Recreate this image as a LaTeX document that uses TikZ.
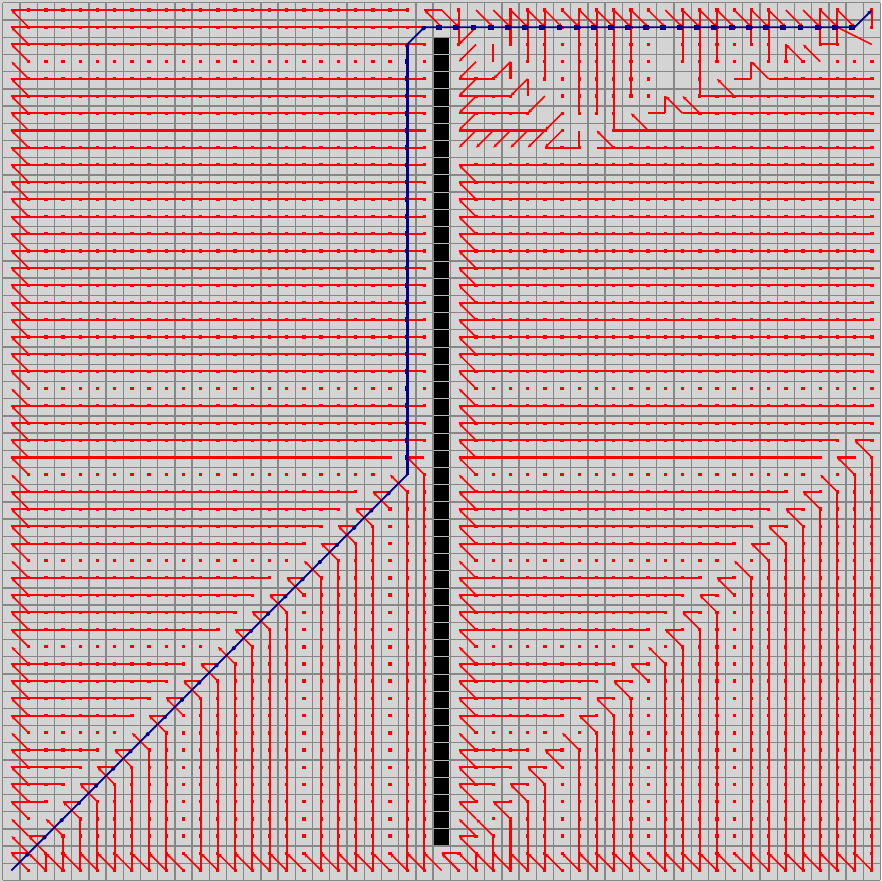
\documentclass[tikz,border=0pt]{standalone}
\usetikzlibrary{arrows.meta}
\definecolor{bgc}{RGB}{212,212,212}
\definecolor{gridc}{RGB}{135,135,135}
\definecolor{wallsep}{RGB}{185,185,185}
\definecolor{pathc}{RGB}{0,0,140}
\tikzset{
  redln/.style={draw=red,line width=1.7pt},
  redthin/.style={draw=red,line width=1.3pt},
  arrend/.style={-{Stealth[length=3.6pt,width=3.2pt]}},
  arrstart/.style={{Stealth[length=3.6pt,width=3.2pt]}-},
}
\newcommand{\hln}[3]{\draw[redln] ({#2+0.5},{#1+0.42}) -- ({#3+0.5},{#1+0.42});}
\newcommand{\hticks}[3]{\foreach \kk in {#2,...,#3}{\fill[red] ({\kk+0.4},{#1+0.33}) rectangle ({\kk+0.6},{#1+0.51});}}
\newcommand{\vln}[3]{\draw[redln] ({#1+0.5},{#2+0.42}) -- ({#1+0.5},{#3+0.42});}
\newcommand{\vticks}[3]{\foreach \kk in {#2,...,#3}{\fill[red] ({#1+0.41},{\kk+0.32}) rectangle ({#1+0.59},{\kk+0.52});}}
\newcommand{\dg}[4]{\draw[redthin,arrstart] ({#1+0.5},{#2+0.42}) -- ({#3+0.5},{#4+0.42});}
\begin{document}
\begin{tikzpicture}[x=0.5cm,y=-0.5cm]
\fill[bgc] (-0.163,-0.163) rectangle (51.03,51.03);
\useasboundingbox (-0.163,-0.163) rectangle (51.03,51.03);
% grid
\foreach \i in {0,...,51}{
  \draw[gridc,line width=1.1pt] (\i,0) -- (\i,51);
  \draw[gridc,line width=1.1pt] (0,\i) -- (51,\i);
}
% wall
\fill[black] (25.06,2.06) rectangle (25.94,48.94);
\foreach \rw in {3,...,48}{\draw[wallsep,line width=0.7pt] (25.06,\rw) -- (25.94,\rw);}

% ---------- left region ----------
\hln{0}{0}{23}\hticks{0}{1}{23}
\foreach \rw in {1,2,4,5,...,21,23,24,25}{\hln{\rw}{0}{24}\hticks{\rw}{1}{24}}
\foreach \rw in {3,22}{\hticks{\rw}{1}{24}}
\foreach \rw in {26,...,47}{
  \pgfmathtruncatemacro\hE{48-\rw}
  \pgfmathtruncatemacro\dr{(\rw==27)||(\rw==32)||(\rw==37)||(\rw==42)||(\rw==47)}
  \ifnum\dr=0 \hln{\rw}{0}{\hE}\fi
  \hticks{\rw}{1}{\hE}
}
\foreach \rw in {0,...,48}{\pgfmathtruncatemacro\nr{\rw+1}\dg{0}{\rw}{1}{\nr}}
\draw[redln] (24.5,0.42) -- (25.5,0.42);
\dg{24}{0}{25}{1}
\foreach \rw in {26,...,49}{
  \pgfmathtruncatemacro\hA{49-\rw}
  \pgfmathtruncatemacro\hB{50-\rw}
  \pgfmathtruncatemacro\nr{\rw+1}
  \pgfmathtruncatemacro\dr{(\rw==27)||(\rw==32)||(\rw==37)||(\rw==42)||(\rw==47)}
  \pgfmathtruncatemacro\dc{(\hB==10)||(\hB==17)||(\hB==22)}
  \ifnum\dr=0 \draw[redln] ({\hA+0.5},{\rw+0.42}) -- ({\hB+0.5},{\rw+0.42});\fi
  \dg{\hA}{\rw}{\hB}{\nr}
  \ifnum\dc=0 \vln{\hB}{\nr}{50}\fi
  \vticks{\hB}{\nr}{50}
}
% bottom zigzag
\foreach \cl in {1,...,49}{\pgfmathtruncatemacro\nc{\cl+1}\dg{\cl}{49}{\nc}{50}}

% ---------- right region ----------
\foreach \rw in {9,...,47}{\pgfmathtruncatemacro\nr{\rw+1}\dg{26}{\rw}{27}{\nr}}
\foreach \rw in {9,10,...,21,23,24}{\hln{\rw}{26}{50}\hticks{\rw}{27}{50}}
\hticks{22}{27}{50}
\foreach \rw in {25,...,46}{
  \pgfmathtruncatemacro\hE{73-\rw}
  \pgfmathtruncatemacro\dr{(\rw==27)||(\rw==32)||(\rw==37)||(\rw==42)||(\rw==47)}
  \ifnum\dr=0 \hln{\rw}{26}{\hE}\fi
  \hticks{\rw}{27}{\hE}
}
\foreach \rw in {25,...,49}{
  \pgfmathtruncatemacro\hA{74-\rw}
  \pgfmathtruncatemacro\hB{75-\rw}
  \pgfmathtruncatemacro\nr{\rw+1}
  \pgfmathtruncatemacro\dr{(\rw==27)||(\rw==32)||(\rw==37)||(\rw==42)||(\rw==47)}
  \pgfmathtruncatemacro\dc{(\hB==32)||(\hB==37)||(\hB==42)}
  \ifnum\dr=0 \draw[redln] ({\hA+0.5},{\rw+0.42}) -- ({\hB+0.5},{\rw+0.42});\fi
  \hticks{\rw}{\hB}{\hB}
  \dg{\hA}{\rw}{\hB}{\nr}
  \ifnum\dc=0 \vln{\hB}{\nr}{50}\fi
  \vticks{\hB}{\nr}{50}
}

% ---------- top right block ----------
\foreach \cl in {25,27,28,...,48}{\pgfmathtruncatemacro\nc{\cl+1}\draw[redthin,arrend] ({\cl+0.5},0.42) -- ({\nc+0.5},1.42);}
\foreach \cl/\e in {26/2,29/2,30/3,31/4,33/6,34/6,35/7,36/5,39/3,40/5,41/3,43/2,44/3,47/2,48/2,50/1}{\vln{\cl}{0}{\e}\vticks{\cl}{0}{\e}}
\foreach \cl/\e in {32/7,37/5,42/3}{\vticks{\cl}{0}{\e}}
% row 8
\foreach \cl in {26,...,31}{\pgfmathtruncatemacro\nc{\cl+1}\dg{\cl}{8}{\nc}{7}}
\hln{8}{31}{33}\hticks{8}{32}{33}
\vln{33}{7}{8}
\dg{34}{7}{35}{8}
\hln{8}{34}{50}\hticks{8}{35}{50}
% row 7
\hln{7}{26}{31}\hticks{7}{27}{31}
\dg{26}{7}{27}{6}\dg{31}{7}{32}{6}
\hln{7}{35}{50}\hticks{7}{36}{50}
\dg{36}{6}{37}{7}
% row 6
\hln{6}{26}{30}\hticks{6}{27}{30}
\dg{26}{6}{27}{5}\dg{30}{6}{31}{5}
\hln{6}{37}{38}
\vln{38}{5}{6}
\dg{38}{5}{39}{6}\dg{39}{5}{40}{6}
\hln{6}{39}{50}\hticks{6}{40}{50}
% row 5
\hln{5}{26}{29}\hticks{5}{27}{29}
\dg{26}{5}{27}{4}\dg{29}{5}{30}{4}
\vln{30}{4}{5}
\hln{5}{40}{50}\hticks{5}{41}{50}
\dg{41}{4}{42}{5}
% row 4
\hln{4}{26}{28}\hticks{4}{27}{28}
\dg{26}{4}{27}{3}\dg{28}{4}{29}{3}
\vln{29}{3}{4}
\hln{4}{42}{43}
\vln{43}{3}{4}
\dg{43}{3}{44}{4}
\hln{4}{44}{50}\hticks{4}{45}{50}
% row 3
\dg{26}{3}{27}{2}
\vln{28}{2}{3}
\vln{45}{2}{3}
\dg{45}{2}{46}{3}\dg{46}{2}{47}{3}
\foreach \cl in {45,46,48,49,50}{\hticks{3}{\cl}{\cl}}
% row 2
\dg{26}{2}{27}{1}
\hln{2}{47}{48}
\draw[redthin] (48.5,1.42) -- (50.5,2.42);

% ---------- path ----------
\draw[pathc,line width=1.4pt,line join=round,-{Stealth[length=4pt,width=3.5pt]}] (0.5,50.42) -- (23.5,27.42) -- (23.5,2.42) -- (24.5,1.42) -- (49.5,1.42) -- (50.5,0.42);
\draw[pathc,line width=2.2pt] (23.5,27.42) -- (23.5,2.42);
\foreach \k in {1,...,22}{\fill[pathc] ({\k+0.42},{50-\k+0.5}) circle (0.12);}
\foreach \rw in {3,...,26}{\fill[pathc] (23.37,{\rw+0.28}) rectangle (23.63,{\rw+0.55});}
\fill[pathc] (24.45,1.47) circle (0.13);
\fill[pathc] (23.5,2.5) circle (0.12);
\foreach \cl in {25,...,49}{\fill[pathc] ({\cl+0.18},1.27) rectangle ({\cl+0.52},1.57);}
\end{tikzpicture}
\end{document}
